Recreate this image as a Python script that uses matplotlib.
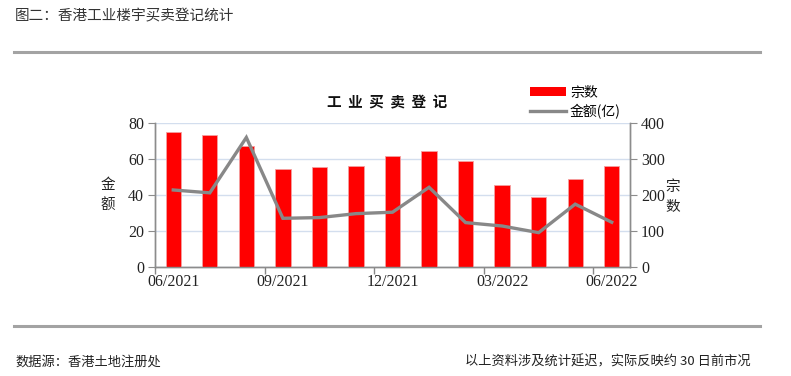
import matplotlib
matplotlib.use("Agg")
import matplotlib.pyplot as plt
from matplotlib.lines import Line2D
from matplotlib.patches import Patch
import numpy as np

# ---- data ----
months = ["06/2021", "07/2021", "08/2021", "09/2021", "10/2021", "11/2021", "12/2021",
          "01/2022", "02/2022", "03/2022", "04/2022", "05/2022", "06/2022"]
deals = [375, 367, 337, 272, 277, 280, 310, 322, 295, 227, 195, 244, 280]          # 宗数
amount = [42.8, 41.2, 72.1, 27.0, 27.4, 29.6, 30.4, 44.3, 24.6, 22.7, 19.0, 34.9, 24.8]  # 金额(亿)

header = "图二：香港工业楼宇买卖登记统计"
chart_title = "工业买卖登记"
source = "数据源：香港土地注册处"
note = "以上资料涉及统计延迟，实际反映约 30 日前市况"

CJK = ["Noto Sans CJK SC", "DejaVu Sans"]
SERIF = ["Liberation Serif", "Noto Sans CJK SC"]
plt.rcParams["font.family"] = CJK

W, H = 791, 376
fig = plt.figure(figsize=(W / 100, H / 100), dpi=100)

def fx(px):
    return px / W

def fy(py):
    return 1 - py / H

# axes: left edge 155, right 630, top 123.3, bottom 266.7
ax1 = fig.add_axes([fx(155), fy(266.7), fx(630) - fx(155), fy(123.3) - fy(266.7)])
x = np.arange(len(months))
ax1.bar(x, deals, width=0.42, color="#ff0000", edgecolor="#f4a0a0", linewidth=0.6, zorder=3)
ax1.set_ylim(0, 400)
ax1.set_xlim(-0.5, len(months) - 0.5)
ax1.grid(axis="y", color="#d3deee", linewidth=1.0, zorder=0)
ax1.set_axisbelow(True)

ax2 = ax1.twinx()
ax2.plot(x, amount, color="#888888", linewidth=2.4, solid_joinstyle="miter", zorder=4)
ax2.set_ylim(0, 80)

# bars' axis (宗数) on the right, line's axis (金额) on the left
ax1.yaxis.tick_right()
ax1.set_yticks([0, 100, 200, 300, 400])
ax2.yaxis.tick_left()
ax2.set_yticks([0, 20, 40, 60, 80])

# x ticks: marks at category boundaries, labels at category centres
lab_idx = [0, 3, 6, 9, 12]
ax1.set_xticks(lab_idx)
ax1.set_xticklabels([months[i] for i in lab_idx])
ax1.set_xticks([i - 0.5 for i in lab_idx], minor=True)
ax1.tick_params(axis="x", which="major", length=0, pad=5)
ax1.tick_params(axis="x", which="minor", length=5, color="#888888", width=1)

axis_col = "#8c8c8c"
for a in (ax1, ax2):
    a.spines["top"].set_visible(False)
    for s in ("left", "right", "bottom"):
        a.spines[s].set_color(axis_col)
        a.spines[s].set_linewidth(1.0)
ax2.tick_params(axis="y", length=5, color=axis_col, pad=3)
ax1.tick_params(axis="y", length=5, color=axis_col, pad=3)

for lab in ax1.get_xticklabels() + ax1.get_yticklabels() + ax2.get_yticklabels():
    lab.set_family(SERIF)
    lab.set_fontsize(11.5)
    lab.set_color("#222222")

# axis labels (stacked vertical)
fig.text(fx(108), fy(195), "金\n额", ha="center", va="center", fontsize=10.5,
         linespacing=1.5, color="#222222")
fig.text(fx(673), fy(197), "宗\n数", ha="center", va="center", fontsize=10.5,
         linespacing=1.5, color="#222222")

# chart title
fig.text(fx(387), fy(102), "  ".join(chart_title), ha="center", va="center",
         fontsize=10.5, fontweight="bold", color="#111111")

# legend
handles = [Patch(facecolor="#ff0000", edgecolor="none"),
           Line2D([0], [0], color="#888888", linewidth=2.4)]
leg = fig.legend(handles, ["宗数", "金额(亿)"], loc="upper left",
                 bbox_to_anchor=(fx(520), fy(76)), frameon=False, fontsize=10,
                 handlelength=2.6, handleheight=0.6, handletextpad=0.3,
                 labelspacing=0.3, borderpad=0.2)

# header & footer
fig.text(fx(15), fy(16), header, ha="left", va="center", fontsize=10.5, color="#333333")
fig.add_artist(Line2D([fx(14), fx(760)], [fy(52), fy(52)], color="#a3a3a3", linewidth=2.2))
fig.add_artist(Line2D([fx(14), fx(760)], [fy(326), fy(326)], color="#a3a3a3", linewidth=2.2))
fig.text(fx(15), fy(362), source, ha="left", va="center", fontsize=9.5, color="#222222")
fig.text(fx(751), fy(362), note, ha="right", va="center", fontsize=9.5, color="#222222")

fig.savefig("out.png", dpi=100)
